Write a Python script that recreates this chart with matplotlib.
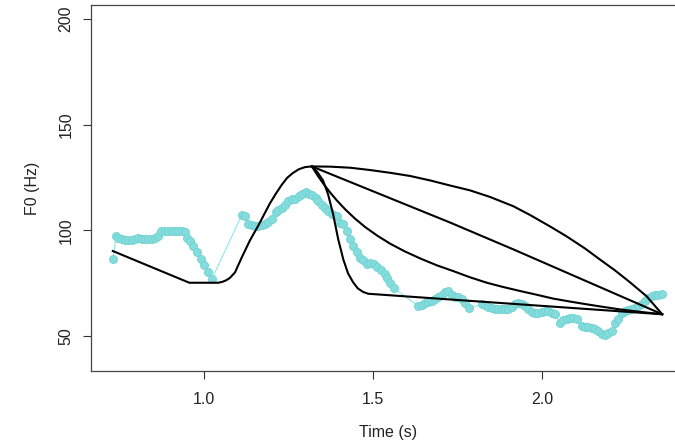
import numpy as np
import matplotlib
matplotlib.use("Agg")
import matplotlib.pyplot as plt

plt.rcParams['font.family'] = ['Liberation Sans', 'DejaVu Sans']

# measured F0 track (s, Hz)
f0_time = [0.732, 0.742, 0.748, 0.758, 0.768, 0.778, 0.788, 0.798, 0.807, 0.817,
           0.827, 0.837, 0.847, 0.857, 0.866, 0.874, 0.886, 0.896, 0.906, 0.916,
           0.926, 0.936, 0.945, 0.952, 0.960, 0.970, 0.982, 0.993, 1.001, 1.014,
           1.024, 1.113, 1.123, 1.132, 1.142, 1.152, 1.162, 1.172, 1.182, 1.191,
           1.203, 1.213, 1.221, 1.231, 1.241, 1.251, 1.261, 1.270, 1.282, 1.292,
           1.302, 1.312, 1.321, 1.331, 1.339, 1.349, 1.359, 1.369, 1.380, 1.393,
           1.403, 1.413, 1.423, 1.433, 1.443, 1.453, 1.462, 1.472, 1.482, 1.493,
           1.503, 1.513, 1.524, 1.535, 1.542, 1.551, 1.562, 1.635, 1.645, 1.654,
           1.664, 1.674, 1.684, 1.694, 1.704, 1.713, 1.723, 1.733, 1.743, 1.753,
           1.763, 1.773, 1.785, 1.822, 1.832, 1.841, 1.851, 1.861, 1.871, 1.881,
           1.891, 1.900, 1.910, 1.920, 1.930, 1.940, 1.950, 1.960, 1.970, 1.979,
           1.989, 1.999, 2.009, 2.019, 2.029, 2.038, 2.053, 2.063, 2.073, 2.083,
           2.092, 2.103, 2.117, 2.127, 2.137, 2.147, 2.157, 2.166, 2.176, 2.186,
           2.196, 2.206, 2.216, 2.225, 2.235, 2.245, 2.255, 2.265, 2.275, 2.284,
           2.295, 2.304, 2.314, 2.324, 2.334, 2.344, 2.354]
f0_hz = [86.2, 97.3, 96.5, 96.0, 95.6, 95.2, 95.2, 95.7, 96.3, 96.0,
         95.7, 95.7, 95.8, 96.3, 97.3, 99.6, 99.9, 99.6, 99.6, 99.8,
         99.6, 99.5, 99.1, 96.5, 94.9, 92.5, 89.7, 86.2, 83.4, 80.2,
         76.8, 107.2, 107.0, 102.8, 102.3, 102.0, 102.0, 102.3, 103.1, 104.1,
         105.2, 108.8, 109.5, 110.7, 112.2, 113.8, 114.6, 114.6, 116.2, 117.4,
         118.1, 117.4, 116.5, 115.4, 113.8, 112.2, 110.7, 109.1, 107.5, 106.7,
         103.6, 102.8, 99.6, 95.7, 92.5, 89.8, 87.1, 85.9, 83.9, 84.4,
         84.0, 82.7, 81.0, 79.3, 77.6, 75.0, 72.6, 64.2, 64.5, 65.5,
         66.1, 66.5, 67.7, 68.6, 69.2, 70.8, 71.1, 69.2, 68.6, 68.4,
         67.3, 65.8, 63.2, 65.0, 64.5, 63.9, 63.4, 62.9, 62.6, 62.6,
         62.6, 62.9, 63.9, 65.0, 65.8, 65.3, 64.2, 62.6, 61.3, 60.7,
         61.1, 61.3, 61.7, 61.8, 61.1, 60.3, 56.0, 57.6, 58.2, 58.7,
         58.7, 58.0, 54.7, 54.4, 54.1, 53.8, 53.5, 52.4, 51.0, 50.7,
         51.3, 52.4, 56.3, 58.2, 61.1, 61.8, 62.1, 62.6, 63.4, 64.2,
         65.0, 66.5, 68.1, 68.9, 69.2, 69.6, 69.7]

# shared part of the model contour: fall, plateau, rise to the peak
rise_time = [0.732, 0.958, 1.044, 1.055, 1.066, 1.078, 1.093, 1.113, 1.137,
             1.162, 1.179, 1.196, 1.214, 1.231, 1.247, 1.264, 1.282, 1.300, 1.320]
rise_hz = [90.2, 75.2, 75.2, 75.6, 76.3, 77.5, 80.1, 87.2, 95.2,
           102.3, 107.5, 112.7, 117.4, 121.5, 124.8, 127.1, 128.9, 129.9, 130.2]

# four falls from the peak to the final target
fall1_time = [1.320, 1.335, 1.353, 1.368, 1.383, 1.398, 1.413, 1.427, 1.442,
              1.456, 1.471, 1.486, 2.355]
fall1_hz = [130.2, 127.8, 123.6, 117.0, 107.5, 95.7, 86.2, 79.6, 75.4,
            72.5, 70.9, 70.0, 60.3]

fall2_time = [1.320, 1.338, 1.356, 1.374, 1.394, 1.418, 1.447, 1.477, 1.513,
              1.551, 1.595, 1.640, 1.690, 1.738, 1.787, 1.837, 1.885, 1.935,
              1.985, 2.033, 2.083, 2.132, 2.180, 2.230, 2.292, 2.355]
fall2_hz = [130.2, 125.7, 121.6, 117.9, 114.1, 110.0, 105.6, 101.6, 97.5,
            93.7, 90.0, 86.7, 83.4, 80.7, 77.8, 75.2, 73.2, 71.3,
            69.5, 67.7, 66.3, 65.0, 63.8, 62.6, 61.4, 60.3]

fall3_time = [1.320, 1.728, 1.915, 2.355]
fall3_hz = [130.2, 103.7, 91.0, 60.3]

fall4_time = [1.320, 1.374, 1.433, 1.492, 1.551, 1.610, 1.669, 1.728, 1.787,
              1.846, 1.915, 1.964, 2.024, 2.073, 2.127, 2.171, 2.216, 2.260,
              2.309, 2.355]
fall4_hz = [130.2, 130.1, 129.6, 128.5, 127.2, 125.7, 123.6, 121.2, 118.9,
            115.8, 111.4, 107.3, 101.8, 97.1, 91.4, 86.2, 81.0, 75.4,
            68.8, 60.3]

fig = plt.figure(figsize=(6.75, 4.46), dpi=100)
ax = fig.add_axes([0.1353, 0.1688, 0.8803, 0.8193])

ax.plot(f0_time, f0_hz, color='#8fe6e6', lw=0.8, zorder=1)
ax.plot(f0_time, f0_hz, ls='none', marker='o', ms=5.8, mfc='#84dcdc',
        mec='#70d2d2', mew=0.6, zorder=2)

for t, h in [(rise_time, rise_hz), (fall1_time, fall1_hz), (fall2_time, fall2_hz),
             (fall3_time, fall3_hz), (fall4_time, fall4_hz)]:
    ax.plot(t, h, color='black', lw=1.5, solid_joinstyle='round', zorder=3)

ax.set_xlim(0.6685, 2.424)
ax.set_ylim(33.6, 206.4)
ax.set_xticks([1.0, 1.5, 2.0])
ax.set_xticklabels(['1.0', '1.5', '2.0'])
ax.set_yticks([50, 100, 150, 200])
ax.set_yticklabels(['50', '100', '150', '200'], rotation=90, va='center')
ax.tick_params(direction='out', length=6, width=0.8, colors='#333333',
               labelsize=11.5, labelcolor='#222222')
ax.tick_params(axis='x', pad=9)
ax.tick_params(axis='y', pad=7)
for s in ax.spines.values():
    s.set_color('#444444')
    s.set_linewidth(0.9)

fig.text(388 / 675, 1 - 433 / 446, 'Time (s)', ha='center', va='center',
         fontsize=11.5, color='#222222')
fig.text(32 / 675, 1 - 188 / 446, 'F0 (Hz)', ha='center', va='center',
         rotation=90, fontsize=11.5, color='#222222')

fig.savefig('out.png', dpi=100)
